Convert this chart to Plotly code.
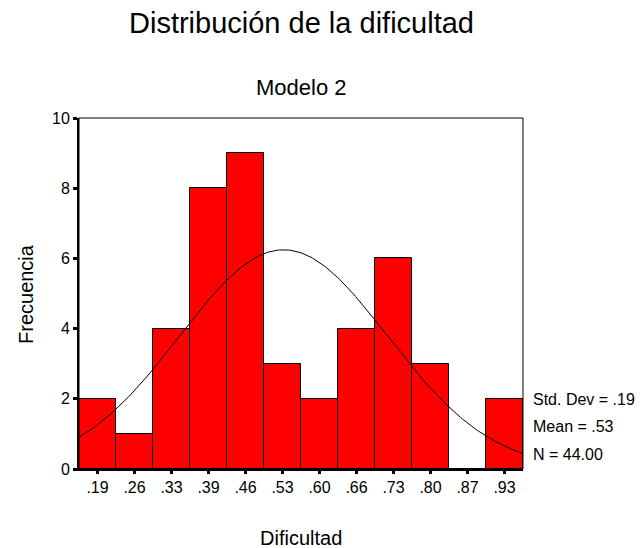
import numpy as np
import plotly.graph_objects as go

# ---- data ----
bin_labels = ['.19', '.26', '.33', '.39', '.46', '.53', '.60', '.66', '.73', '.80', '.87', '.93']
bin_centers = [0.1900, 0.2576, 0.3252, 0.3928, 0.4604, 0.5280, 0.5956, 0.6632, 0.7308, 0.7984, 0.8660, 0.9336]
counts = [2, 1, 4, 8, 9, 3, 2, 4, 6, 3, 0, 2]
stat_mean = 0.53
stat_sd = 0.19
stat_n = 44
stat_texts = ['Std. Dev = .19', 'Mean = .53', 'N = 44.00']
y_ticks = [0, 2, 4, 6, 8, 10]

bin_width = bin_centers[1] - bin_centers[0]
x_lo = bin_centers[0] - bin_width / 2
x_hi = bin_centers[-1] + bin_width / 2

# fitted normal curve from the displayed statistics
xc = np.linspace(x_lo, x_hi, 200)
yc = stat_n * bin_width / (stat_sd * np.sqrt(2 * np.pi)) * np.exp(-0.5 * ((xc - stat_mean) / stat_sd) ** 2)

FONT = "Liberation Sans, Arial, sans-serif"

fig = go.Figure()
fig.add_trace(go.Bar(
    x=bin_centers, y=counts, width=bin_width,
    marker=dict(color='#FF0000', line=dict(color='black', width=1)),
    showlegend=False, hoverinfo='x+y'))
fig.add_trace(go.Scatter(
    x=xc, y=yc, mode='lines', line=dict(color='black', width=1),
    showlegend=False, hoverinfo='skip'))

fig.update_layout(
    width=636, height=540,
    margin=dict(l=71, r=121, t=110, b=79),
    paper_bgcolor='white', plot_bgcolor='white',
    font=dict(family=FONT, color='black', size=16),
    bargap=0,
    xaxis=dict(range=[x_lo, x_hi], tickvals=bin_centers, ticktext=bin_labels,
               showgrid=False, zeroline=False, showline=True, linecolor='black', linewidth=2,
               ticks='outside', ticklen=3, tickwidth=3, tickcolor='black',
               tickfont=dict(size=16, family=FONT)),
    yaxis=dict(range=[0, 10], tickvals=y_ticks, ticktext=[str(v) for v in y_ticks],
               showgrid=False, zeroline=False, showline=True, linecolor='black', linewidth=2,
               ticks='outside', ticklen=4, tickwidth=3, tickcolor='black',
               tickfont=dict(size=16, family=FONT)),
    shapes=[dict(type='rect', xref='paper', yref='paper', x0=0, x1=1, y0=0, y1=1,
                 line=dict(color='black', width=1), fillcolor='rgba(0,0,0,0)', layer='above')],
)

ann = [
    dict(text='Distribución de la dificultad', x=0.5, y=1.2707, font=dict(size=29)),
    dict(text='Modelo 2', x=0.5, y=1.0855, font=dict(size=22)),
    dict(text='Dificultad', x=0.5, y=-0.1966, font=dict(size=20)),
    dict(text='Frecuencia', x=-0.1205, y=0.5, font=dict(size=20), textangle=-90),
]
for a in ann:
    fig.add_annotation(xref='paper', yref='paper', xanchor='center', yanchor='middle',
                       showarrow=False, **a)
for txt, yy in zip(stat_texts, [0.1974, 0.1205, 0.0407]):
    fig.add_annotation(text=txt, xref='paper', yref='paper', x=1.018, y=yy,
                       xanchor='left', yanchor='middle', showarrow=False, font=dict(size=16))

fig.write_html("out.html")
